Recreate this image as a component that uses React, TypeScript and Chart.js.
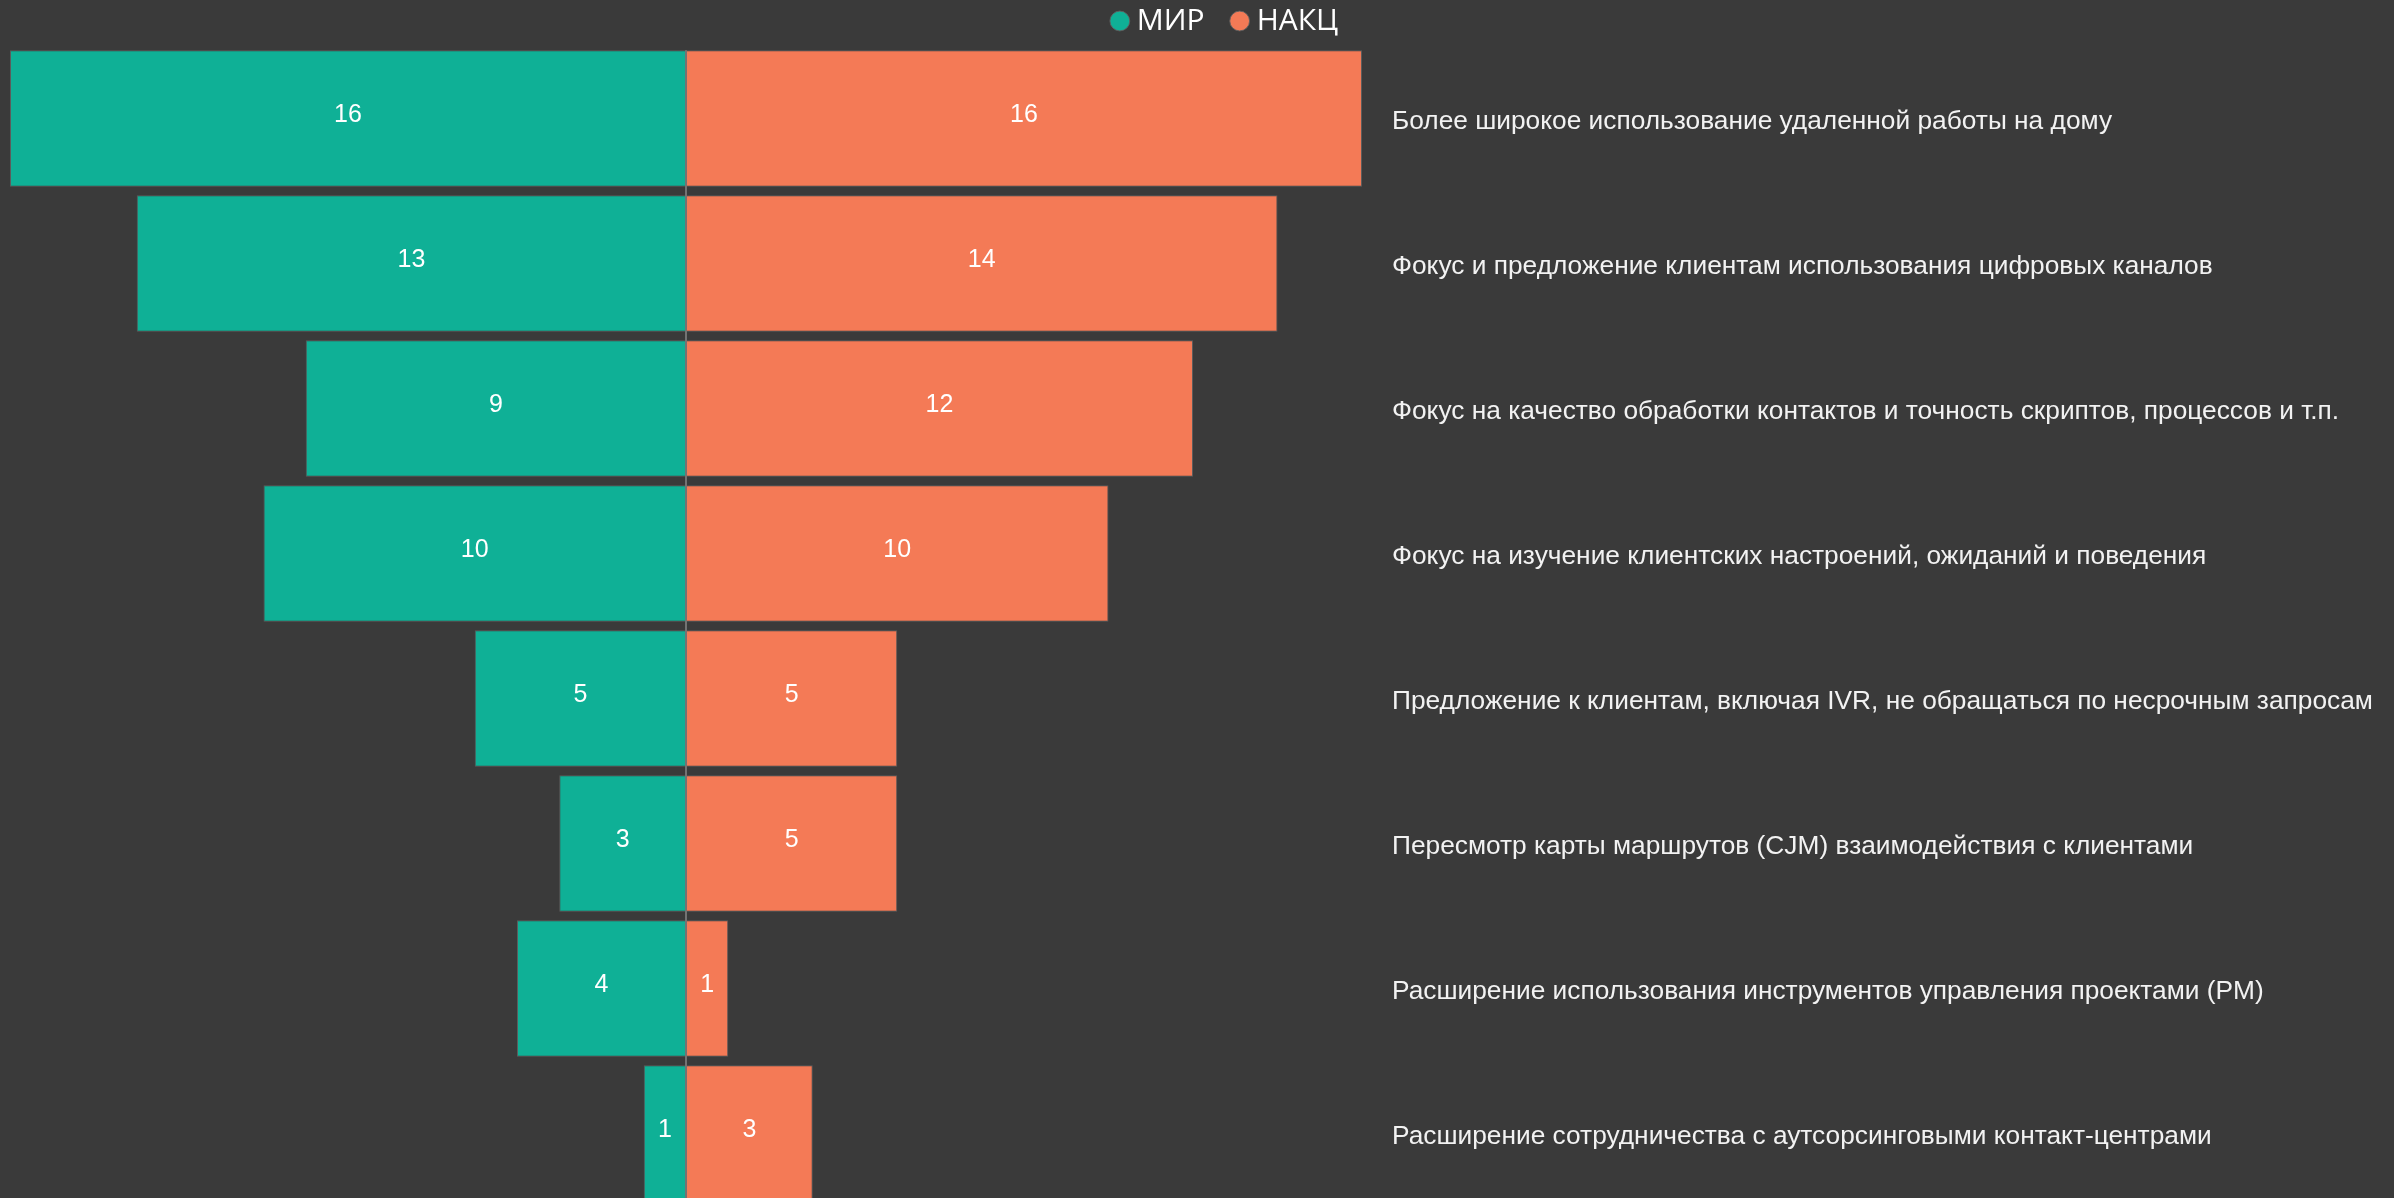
import React, { useEffect, useRef } from "react";
import { Chart, registerables } from "chart.js";

Chart.register(...registerables);

const categories = [
  "Более широкое использование удаленной работы на дому",
  "Фокус и предложение клиентам использования цифровых каналов",
  "Фокус на качество обработки контактов и точность скриптов, процессов и т.п.",
  "Фокус на изучение клиентских настроений, ожиданий и поведения",
  "Предложение к клиентам, включая IVR, не обращаться по несрочным запросам",
  "Пересмотр карты маршрутов (CJM) взаимодействия с клиентами",
  "Расширение использования инструментов управления проектами (PM)",
  "Расширение сотрудничества с аутсорсинговыми контакт-центрами",
];
const seriesNames = ["МИР", "НАКЦ"];
const mirValues = [16, 13, 9, 10, 5, 3, 4, 1];
const nakcValues = [16, 14, 12, 10, 5, 5, 1, 3];
const axisMax = 16;

const BG = "#3a3a3a";
const TEAL = "#0fb096";
const ORANGE = "#f47a56";

const valueLabels = {
  id: "valueLabels",
  afterDatasetsDraw(chart: any) {
    const ctx = chart.ctx;
    ctx.save();
    ctx.font = '25px "Liberation Sans", Arial, sans-serif';
    ctx.fillStyle = "#ffffff";
    ctx.textAlign = "center";
    ctx.textBaseline = "middle";
    chart.data.datasets.forEach((ds: any, i: number) => {
      const meta = chart.getDatasetMeta(i);
      meta.data.forEach((bar: any, j: number) => {
        const v = Math.abs(ds.data[j]);
        const p = bar.getProps(["x", "y", "base"], true);
        ctx.fillText(String(v), (p.x + p.base) / 2, p.y - 3);
      });
    });
    ctx.restore();
  },
};

const centerLine = {
  id: "centerLine",
  afterDatasetsDraw(chart: any) {
    const ctx = chart.ctx;
    const x = chart.scales.x.getPixelForValue(0);
    const area = chart.chartArea;
    const first = chart.getDatasetMeta(0).data[0];
    const top = first ? first.y - first.height / 2 : area.top;
    ctx.save();
    ctx.strokeStyle = "#737373";
    ctx.lineWidth = 2;
    ctx.beginPath();
    ctx.moveTo(x, top);
    ctx.lineTo(x, area.bottom);
    ctx.stroke();
    ctx.restore();
  },
};

const legendShift = {
  id: "legendShift",
  afterLayout(chart: any) {
    if (chart.legend) {
      chart.legend.left += 26;
      chart.legend.right += 26;
    }
  },
};

export default function App() {
  const ref = useRef<HTMLCanvasElement | null>(null);

  useEffect(() => {
    document.body.style.margin = "0";
    document.body.style.background = BG;
    document.documentElement.style.overflow = "hidden";
    const canvas = ref.current;
    if (!canvas) return;
    const chart = new Chart(canvas, {
      type: "bar",
      data: {
        labels: categories,
        datasets: [
          {
            label: seriesNames[0],
            data: mirValues.map((v) => -v),
            backgroundColor: TEAL,
            borderColor: "rgba(95,95,95,0.9)",
            borderWidth: 1,
            borderSkipped: false,
          },
          {
            label: seriesNames[1],
            data: nakcValues,
            backgroundColor: ORANGE,
            borderColor: "rgba(95,95,95,0.9)",
            borderWidth: 1,
            borderSkipped: false,
          },
        ],
      },
      options: {
        indexAxis: "y",
        responsive: false,
        animation: false,
        layout: { padding: { left: 10, top: -27, right: 0, bottom: 0 } },
        datasets: { bar: { categoryPercentage: 0.94, barPercentage: 1 } },
        scales: {
          x: {
            display: false,
            stacked: true,
            min: -axisMax,
            max: axisMax,
          },
          y: {
            stacked: true,
            position: "right",
            border: { display: false },
            grid: { display: false, drawTicks: false },
            ticks: {
              color: "#f2f2f2",
              padding: 30,
              labelOffset: 3,
              font: { family: '"Liberation Sans", Arial, sans-serif', size: 26.3 },
            },
            afterFit: (scale: any) => {
              scale.width = 1032;
              scale.paddingTop = 0;
              scale.paddingBottom = 0;
            },
          },
        },
        plugins: {
          tooltip: { enabled: false },
          legend: {
            position: "top",
            labels: {
              color: "#ffffff",
              usePointStyle: true,
              pointStyle: "circle",
              boxWidth: 4,
              boxHeight: 14,
              padding: 33,
              font: { family: '"Open Sans", "Noto Sans", sans-serif', size: 30 },
            },
          },
        },
      },
      plugins: [valueLabels, centerLine, legendShift],
    } as any);
    return () => chart.destroy();
  }, []);

  return (
    <canvas
      ref={ref}
      width={2394}
      height={1206}
      style={{ display: "block", width: "2394px", height: "1206px", background: BG }}
    />
  );
}
